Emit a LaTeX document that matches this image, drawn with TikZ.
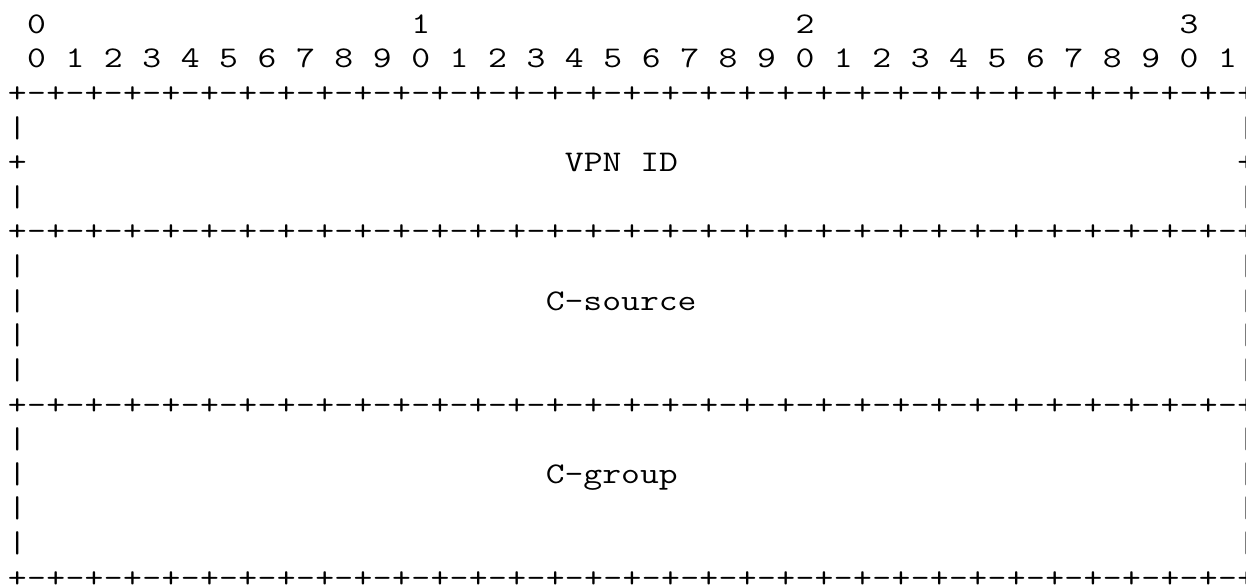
\documentclass[tikz,border=0pt]{standalone}
\usepackage{fontspec}
\usepackage{graphicx}
\tikzset{asc/.style={anchor=base west, inner sep=0pt, outer sep=0pt, text=black,
  font=\fontsize{30pt}{34.6pt}\selectfont\ttfamily}}
\newcommand\asciiat[4]{\node[asc] (#1) at ({7.9+#2*19.21},{-33.2-#3*34.62}) {\scalebox{1.2197}[1]{#4}};}
\newcommand\bordrow[1]{%
  \foreach \k in {0,...,32}{
    \pgfmathtruncatemacro\cp{2*\k}
    \asciiat{b#1p\k}{\cp}{#1}{+}
  }
  \foreach \k in {0,...,31}{
    \pgfmathtruncatemacro\cm{2*\k+1}
    \asciiat{b#1m\k}{\cm}{#1}{-}
  }
}
\begin{document}
\begin{tikzpicture}[x=1pt,y=1pt]
\useasboundingbox (0,0) rectangle (1246,-586);
% ruler
\asciiat{t0}{1}{0}{0}
\asciiat{t1}{21}{0}{1}
\asciiat{t2}{41}{0}{2}
\asciiat{t3}{61}{0}{3}
\foreach \i in {0,...,31}{
  \pgfmathtruncatemacro\d{mod(\i,10)}
  \pgfmathtruncatemacro\c{1+2*\i}
  \asciiat{u\i}{\c}{1}{\d}
}
% borders
\bordrow{2}
\bordrow{6}
\bordrow{11}
\bordrow{16}
% side bars
\foreach \r in {3,5,7,8,9,10,12,13,14,15}{
  \asciiat{l\r}{0}{\r}{|}
  \asciiat{r\r}{64}{\r}{|}
}
\asciiat{l4}{0}{4}{+}
\asciiat{r4}{64}{4}{+}
% labels
\asciiat{vpn}{29}{4}{VPN ID}
\asciiat{csrc}{28}{8}{C-source}
\asciiat{cgrp}{28}{13}{C-group}
\end{tikzpicture}
\end{document}
